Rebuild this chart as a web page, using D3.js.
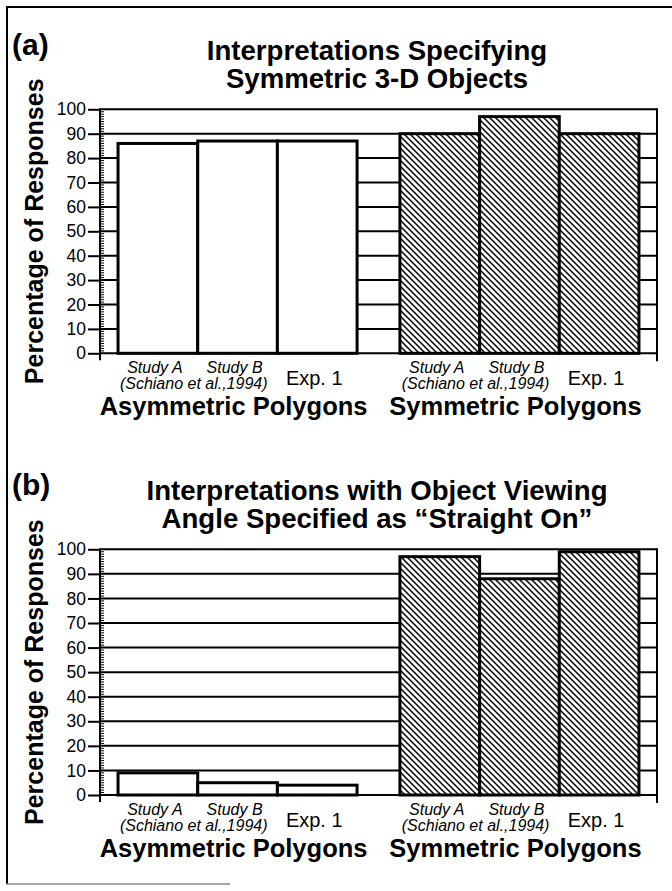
<!DOCTYPE html>
<html>
<head>
<meta charset="utf-8">
<script src="https://cdn.jsdelivr.net/npm/d3@7"></script>
<style>
  html, body { margin: 0; padding: 0; background: #fff; }
  svg { display: block; }
  text { font-family: Helvetica, Arial, "Liberation Sans", sans-serif; fill: #000; }
</style>
</head>
<body>
<svg id="chart" width="672" height="891"></svg>
<script>
// ---- Data ----
const groups = ["Asymmetric Polygons", "Symmetric Polygons"];
const conditions = ["Study A", "Study B", "Exp. 1"];
const sourceNote = "(Schiano et al.,1994)";
const yTicks = [0, 10, 20, 30, 40, 50, 60, 70, 80, 90, 100];

const panelLabels = ["(a)", "(b)"];
const panelTitles = [
  ["Interpretations Specifying", "Symmetric 3-D Objects"],
  ["Interpretations with Object Viewing", "Angle Specified as \u201cStraight On\u201d"]
];
const yTitle = "Percentage of Responses";

// Panel (a): symmetric 3-D object interpretations
const aAsymmetric = [86, 87, 87];
const aSymmetric  = [90, 97, 90];
// Panel (b): viewing angle "straight on"
const bAsymmetric = [9, 5, 4];
const bSymmetric  = [97, 88, 99];

// ---- Layout ----
const W = 672, H = 891;
const plotLeft = 100, plotRight = 657;
const panels = [
  { label: panelLabels[0], title: panelTitles[0], yTop: 109.3, yBot: 353.3, series: [aAsymmetric, aSymmetric] },
  { label: panelLabels[1], title: panelTitles[1], yTop: 549.3, yBot: 795,   series: [bAsymmetric, bSymmetric] }
];

const svg = d3.select("#chart");

// hatch pattern
const defs = svg.append("defs");
const pat = defs.append("pattern")
  .attr("id", "hatch").attr("patternUnits", "userSpaceOnUse")
  .attr("width", 6).attr("height", 6);
pat.append("rect").attr("width", 6).attr("height", 6).attr("fill", "#fff");
pat.append("path")
  .attr("d", "M-1,-1 L7,7 M-4,2 L2,8 M4,-2 L8,2")
  .attr("stroke", "#000").attr("stroke-width", 1.5);

// outer frame (partial, as in the scanned figure)
svg.append("line").attr("x1", 7).attr("x2", 7).attr("y1", 7).attr("y2", 884)
  .attr("stroke", "#000").attr("stroke-width", 2);
svg.append("line").attr("x1", 6).attr("x2", 672).attr("y1", 7).attr("y2", 7)
  .attr("stroke", "#000").attr("stroke-width", 2);
svg.append("line").attr("x1", 6).attr("x2", 230).attr("y1", 884).attr("y2", 884)
  .attr("stroke", "#888").attr("stroke-width", 1.5);

const xOuter = d3.scaleBand().domain(groups)
  .range([plotLeft, plotRight]).paddingInner(0.152).paddingOuter(0.064);
const xInner = d3.scaleBand().domain(conditions)
  .range([0, xOuter.bandwidth()]).padding(0);

panels.forEach(p => {
  const g = svg.append("g");
  const y = d3.scaleLinear().domain([0, 100]).range([p.yBot, p.yTop]);

  // gridlines (including frame top and baseline)
  g.selectAll("line.grid").data(yTicks).join("line")
    .attr("class", "grid")
    .attr("x1", plotLeft).attr("x2", plotRight)
    .attr("y1", d => y(d)).attr("y2", d => y(d))
    .attr("stroke", "#000").attr("stroke-width", 2);

  // bars
  groups.forEach((grp, gi) => {
    g.selectAll(null).data(p.series[gi]).join("rect")
      .attr("x", (d, i) => xOuter(grp) + xInner(conditions[i]))
      .attr("width", xInner.bandwidth())
      .attr("y", d => y(d))
      .attr("height", d => y(0) - y(d))
      .attr("fill", gi === 0 ? "#fff" : "url(#hatch)")
      .attr("stroke", "#000").attr("stroke-width", 3);
  });

  // minor ticks
  const minor = d3.range(0, 101).filter(v => v % 10 !== 0);
  g.selectAll("line.minor").data(minor).join("line")
    .attr("x1", plotLeft).attr("x2", plotLeft + 4)
    .attr("y1", d => y(d)).attr("y2", d => y(d))
    .attr("stroke", "#000").attr("stroke-width", 1);

  // y axis
  const axis = d3.axisLeft(y).tickValues(yTicks).tickSize(12).tickSizeOuter(0).tickPadding(2);
  const ax = g.append("g").attr("transform", `translate(${plotLeft},0)`).call(axis);
  ax.select(".domain").remove();
  ax.selectAll(".tick line").attr("stroke", "#000").attr("stroke-width", 2);
  ax.selectAll(".tick text")
    .attr("font-size", 17.5).attr("font-family", "Helvetica, Arial, 'Liberation Sans', sans-serif")
    .attr("fill", "#000");
  g.append("line").attr("x1", plotLeft).attr("x2", plotLeft)
    .attr("y1", y(100) - 1).attr("y2", y(0) + 7)
    .attr("stroke", "#000").attr("stroke-width", 2);
  // right frame
  g.append("line").attr("x1", plotRight).attr("x2", plotRight)
    .attr("y1", y(100) - 1).attr("y2", y(0) + 8)
    .attr("stroke", "#000").attr("stroke-width", 2);

  // y title
  g.append("text")
    .attr("transform", `translate(43,${(p.yTop + p.yBot) / 2}) rotate(-90)`)
    .attr("text-anchor", "middle").attr("font-weight", "bold").attr("font-size", 25)
    .text(yTitle);

  // panel label and title
  g.append("text").attr("x", 12).attr("y", p.yTop - 54)
    .attr("font-weight", "bold").attr("font-size", 30).text(p.label);
  g.append("text").attr("x", 377).attr("y", p.yTop - 49)
    .attr("text-anchor", "middle").attr("font-weight", "bold").attr("font-size", 27.6)
    .text(p.title[0]);
  g.append("text").attr("x", 377).attr("y", p.yTop - 21)
    .attr("text-anchor", "middle").attr("font-weight", "bold").attr("font-size", 27.6)
    .text(p.title[1]);

  // category labels
  groups.forEach(grp => {
    const gx = xOuter(grp);
    const cx = c => gx + xInner(c) + xInner.bandwidth() / 2 - 3;
    g.append("text").attr("x", cx(conditions[0])).attr("y", p.yBot + 20)
      .attr("text-anchor", "middle").attr("font-style", "italic").attr("font-size", 16)
      .text(conditions[0]);
    g.append("text").attr("x", cx(conditions[1])).attr("y", p.yBot + 20)
      .attr("text-anchor", "middle").attr("font-style", "italic").attr("font-size", 16)
      .text(conditions[1]);
    g.append("text").attr("x", gx + xInner.bandwidth() - 4).attr("y", p.yBot + 36)
      .attr("text-anchor", "middle").attr("font-style", "italic").attr("font-size", 16)
      .text(sourceNote);
    g.append("text").attr("x", cx(conditions[2])).attr("y", p.yBot + 32)
      .attr("text-anchor", "middle").attr("font-size", 20)
      .text(conditions[2]);
    g.append("text").attr("x", gx + xOuter.bandwidth() / 2 - 4).attr("y", p.yBot + 62)
      .attr("text-anchor", "middle").attr("font-weight", "bold").attr("font-size", 25.5)
      .text(grp);
  });
});
</script>
</body>
</html>
